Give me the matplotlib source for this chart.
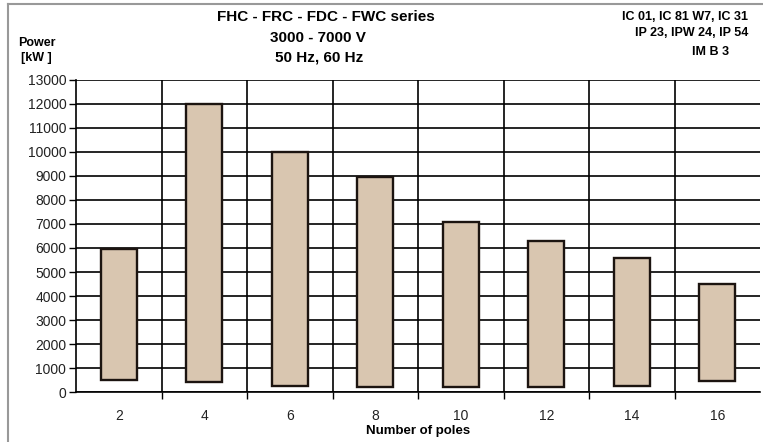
import numpy as np
import matplotlib
matplotlib.use('Agg')
import matplotlib.pyplot as plt
from matplotlib.lines import Line2D

# power range per number of poles (kW)
poles = ['2', '4', '6', '8', '10', '12', '14', '16']
p_min = [500, 400, 250, 200, 200, 200, 250, 450]
p_max = [5950, 12000, 10000, 8950, 7100, 6300, 5600, 4500]
yticks = list(range(0, 13001, 1000))

plt.rcParams['font.family'] = ['Liberation Sans', 'DejaVu Sans']

fig = plt.figure(figsize=(7.63, 4.42), dpi=100)
ax = fig.add_axes([76/763, 1-392/442, 684/763, 312/442])

x = np.arange(len(poles))
lo = np.array(p_min)
hi = np.array(p_max)
ax.bar(x, hi - lo, bottom=lo, width=0.42, color='#d9c6b0',
       edgecolor='#1c1410', linewidth=1.7, zorder=3)

ax.set_xlim(-0.5, len(poles) - 0.5)
ax.set_ylim(0, 13000)
ax.set_yticks(yticks)
ax.set_yticklabels([str(v) for v in yticks], fontsize=10, color='#222222')
ax.set_xticks(x)
ax.set_xticklabels(poles, fontsize=10, color='#222222')
ax.tick_params(axis='x', which='major', length=0, pad=12)
ax.set_xticks(np.arange(0.5, len(poles) - 0.5, 1), minor=True)
ax.tick_params(axis='x', which='minor', length=5, width=1, direction='out', color='black')
ax.tick_params(axis='y', length=5, width=1, color='black', pad=2)

ax.grid(axis='y', which='major', color='black', linewidth=1.2, zorder=0)
ax.grid(axis='x', which='minor', color='black', linewidth=1.2, zorder=0)
for side in ['top', 'right']:
    ax.spines[side].set_visible(False)
ax.spines['left'].set_linewidth(1.2)
ax.spines['bottom'].set_linewidth(1.2)

ax.set_xlabel('Number of poles', fontsize=9.5, fontweight='bold', labelpad=2)

# titles
fig.text(326/763, 1-17/442, 'FHC - FRC - FDC - FWC series', ha='center', va='center',
         fontsize=11, fontweight='bold')
fig.text(318/763, 1-38/442, '3000 - 7000 V', ha='center', va='center',
         fontsize=11, fontweight='bold')
fig.text(319/763, 1-58/442, '50 Hz, 60 Hz', ha='center', va='center',
         fontsize=11, fontweight='bold')

fig.text(748/763, 1-17/442, 'IC 01, IC 81 W7, IC 31', ha='right', va='center',
         fontsize=9, fontweight='bold')
fig.text(748/763, 1-33/442, 'IP 23, IPW 24, IP 54', ha='right', va='center',
         fontsize=9, fontweight='bold')
fig.text(711/763, 1-52/442, 'IM B 3', ha='center', va='center',
         fontsize=9, fontweight='bold')

fig.text(18/763, 1-43/442, 'Power', ha='left', va='center', fontsize=9, fontweight='bold')
fig.text(21/763, 1-58/442, '[kW ]', ha='left', va='center', fontsize=9, fontweight='bold')

# outer frame (left and top edges)
fig.add_artist(Line2D([8/763, 8/763], [0, 1-4/442], transform=fig.transFigure,
                      color='#999999', linewidth=1.5))
fig.add_artist(Line2D([8/763, 1], [1-4/442, 1-4/442], transform=fig.transFigure,
                      color='#999999', linewidth=1.5))

plt.savefig('out.png', dpi=100)
plt.close('all')
